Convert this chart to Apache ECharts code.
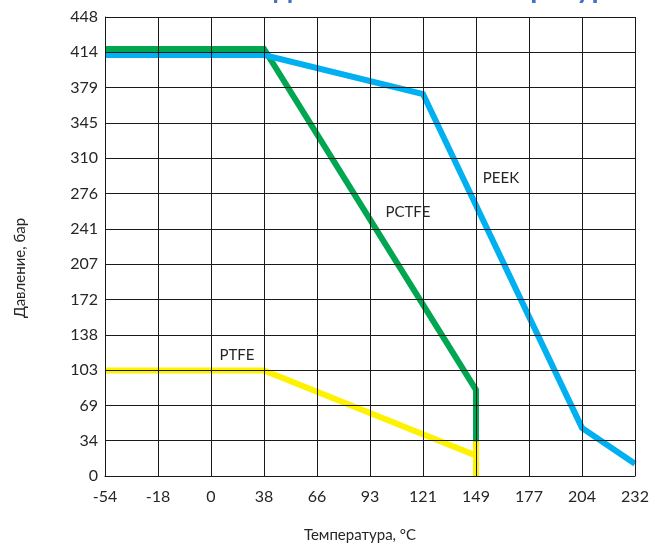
<!DOCTYPE html>
<html>
<head>
<meta charset="utf-8">
<script src="https://cdn.jsdelivr.net/npm/echarts@6/dist/echarts.min.js"></script>
<style>
html,body{margin:0;padding:0;background:#fff;}
#c{width:655px;height:544px;}
</style>
</head>
<body>
<div id="c"></div>
<script>
// Categories (°C) and tick labels
var xCategories = ['-54','-18','0','38','66','93','121','149','177','204','232'];
var yTickLabels = ['0','34','69','103','138','172','207','241','276','310','345','379','414','448'];
var yStep = 34.4738;   // 500 psi in bar
var yMax = 448.1594;   // 6500 psi in bar

// Series values [temperature category, pressure bar]
var peekData  = [['-54',411],['38',411],['121',373],['204',47],['232',12]];
var pctfeData = [['-54',417],['38',417],['149',84],['149',0]];
var ptfeData  = [['-54',103],['38',103],['149',20],['149',34],['149',0]];

// Series name labels anchored to data coordinates
var peekLabel  = {coord:['149',291], offset:[25,0], text:'PEEK'};
var pctfeLabel = {coord:['121',258], offset:[-15,0], text:'PCTFE'};
var ptfeLabel  = {coord:['38',118], offset:[-27,0], text:'PTFE'};

var titleText = 'Зависимость давления от температуры';
var xName = 'Температура, °С';
var yName = 'Давление, бар';

var FONT = 'Lato, "Open Sans", sans-serif';
var TXT = '#262626';

function mp(l){
  return {
    symbol:'circle', symbolSize:1, silent:true,
    itemStyle:{color:'rgba(0,0,0,0)'},
    label:{show:true, position:'inside', formatter:l.text, offset:l.offset,
           color:TXT, fontSize:15, fontFamily:FONT},
    data:[{coord:l.coord}]
  };
}

var chart = echarts.init(document.getElementById('c'), null, {renderer:'canvas'});
chart.setOption({
  animation:false,
  backgroundColor:'#fff',
  grid:{left:105, right:20, top:17, bottom:68},
  xAxis:{
    type:'category', data:xCategories, boundaryGap:false, z:10,
    axisLine:{show:true, lineStyle:{color:'#1a1a1a', width:1}},
    axisTick:{show:false},
    axisLabel:{color:TXT, fontSize:16, fontFamily:FONT, margin:13, interval:0},
    splitLine:{show:true, lineStyle:{color:'#1a1a1a', width:1}}
  },
  yAxis:{
    type:'value', min:0, max:yMax, interval:yStep, z:10,
    axisLine:{show:true, lineStyle:{color:'#1a1a1a', width:1}},
    axisTick:{show:false},
    axisLabel:{color:TXT, fontSize:16, fontFamily:FONT, margin:7,
      formatter:function(v){ return yTickLabels[Math.round(v / yStep)]; }},
    splitLine:{show:true, lineStyle:{color:'#1a1a1a', width:1}}
  },
  graphic:[
    {type:'text', x:361, y:3, style:{text:titleText, font:'bold 29px ' + FONT, fill:'#4472C4', align:'center', verticalAlign:'bottom'}},
    {type:'text', x:360, y:535, style:{text:xName, font:'15px ' + FONT, fill:TXT, align:'center', verticalAlign:'middle'}},
    {type:'text', x:20, y:268, rotation:Math.PI/2, style:{text:yName, font:'15px ' + FONT, fill:TXT, align:'center', verticalAlign:'middle'}}
  ],
  series:[
    {name:'PCTFE', type:'line', data:pctfeData, symbol:'none', z:2,
     lineStyle:{color:'#00A650', width:6, join:'miter'}, markPoint:mp(pctfeLabel)},
    {name:'PEEK', type:'line', data:peekData, symbol:'none', z:3,
     lineStyle:{color:'#00B0F0', width:6, join:'miter'}, markPoint:mp(peekLabel)},
    {name:'PTFE', type:'line', data:ptfeData, symbol:'none', z:4,
     lineStyle:{color:'#FFF200', width:6, join:'miter'}, markPoint:mp(ptfeLabel)}
  ]
});
</script>
</body>
</html>
